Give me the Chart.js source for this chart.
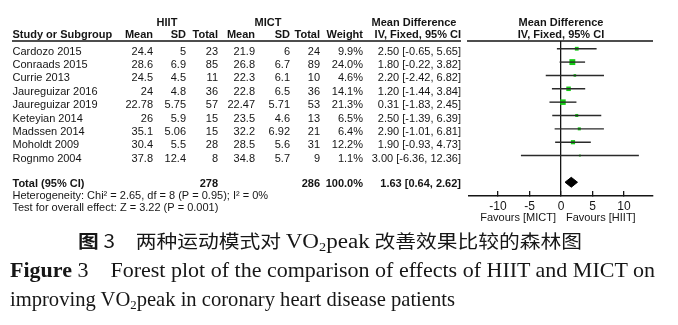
<!DOCTYPE html>
<html>
<head>
<meta charset="utf-8">
<title>Forest plot</title>
<script src="https://cdn.jsdelivr.net/npm/chart.js@4.4.1/dist/chart.umd.min.js"></script>
<style>
    html, body { margin: 0; padding: 0; background: #fff; }
    #wrap { position: relative; width: 678px; height: 325px; overflow: hidden; }
    #forest { position: absolute; left: 0; top: 0; }
    .cap { position: absolute; white-space: nowrap; transform-origin: 0 50%; color: #161616; line-height: 1.15; }
    .cn { font-family: "Noto Sans CJK SC", sans-serif; font-size: 18px; }
    .cn .lat { font-family: "Liberation Serif", serif; font-size: 20px; }
    .en { font-family: "Liberation Serif", serif; font-size: 21px; }
    sub { font-size: 62%; vertical-align: -0.22em; line-height: 0; }
</style>
</head>
<body>
<div id="wrap">
    <canvas id="forest" width="678" height="228"></canvas>
    <div class="cap cn" data-left="78" data-y="241" data-width="504"><b>图</b> 3　两种运动模式对 <span class="lat">VO<sub>2</sub>peak</span> 改善效果比较的森林图</div>
    <div class="cap en" data-left="10" data-y="270" data-width="645"><b>Figure</b> 3&emsp;Forest plot of the comparison of effects of HIIT and MICT on</div>
    <div class="cap en" data-left="10" data-y="299" data-width="445">improving VO<sub>2</sub>peak in coronary heart disease patients</div>
</div>

<script>
'use strict';

// study rows
const studies = ['Cardozo 2015', 'Conraads 2015', 'Currie 2013', 'Jaureguizar 2016', 'Jaureguizar 2019',
    'Keteyian 2014', 'Madssen 2014', 'Moholdt 2009', 'Rognmo 2004'];

const hiitMean = [24.4, 28.6, 24.5, 24, 22.78, 26, 35.1, 30.4, 37.8];
const hiitSD = [5, 6.9, 4.5, 4.8, 5.75, 5.9, 5.06, 5.5, 12.4];
const hiitN = [23, 85, 11, 36, 57, 15, 15, 28, 8];

const mictMean = [21.9, 26.8, 22.3, 22.8, 22.47, 23.5, 32.2, 28.5, 34.8];
const mictSD = [6, 6.7, 6.1, 6.5, 5.71, 4.6, 6.92, 5.6, 5.7];
const mictN = [24, 89, 10, 36, 53, 13, 21, 31, 9];

const weights = [9.9, 24.0, 4.6, 14.1, 21.3, 6.5, 6.4, 12.2, 1.1];
const meanDiff = [2.50, 1.80, 2.20, 1.20, 0.31, 2.50, 2.90, 1.90, 3.00];
const ciLow = [-0.65, -0.22, -2.42, -1.44, -1.83, -1.39, -1.01, -0.93, -6.36];
const ciHigh = [5.65, 3.82, 6.82, 3.84, 2.45, 6.39, 6.81, 4.73, 12.36];

// pooled estimate
const totalHiitN = 278;
const totalMictN = 286;
const totalWeight = 100.0;
const totalMD = 1.63;
const totalLow = 0.64;
const totalHigh = 2.62;

const chi2 = 2.65;
const df = 8;
const pHet = 0.95;
const i2 = 0;
const zValue = 3.22;
const pOverall = 0.001;

const xTicks = [-10, -5, 0, 5, 10];

const TOTAL_ROW = 10;
const INK = '#151515';
const GREEN = '#14cc14';
const FONT = '"Liberation Sans", Arial, sans-serif';

function ci (m, lo, hi) {
    return `${m.toFixed(2)} [${lo.toFixed(2)}, ${hi.toFixed(2)}]`;
}

// table columns, header rows and footer text drawn around the plot
const tableText = {
    id: 'tableText',
    afterDraw (chart) {
        const { ctx, chartArea, scales: { x, y } } = chart;

        const put = (str, px, py, align, bold) => {
            ctx.font = `${bold ? 'bold ' : ''}11px ${FONT}`;
            ctx.textAlign = align;
            ctx.fillText(str, px, py);
        };

        ctx.save();
        ctx.fillStyle = INK;
        ctx.textBaseline = 'middle';

        put('HIIT', 167, 23, 'center', true);
        put('MICT', 268, 23, 'center', true);
        put('Mean Difference', 414, 23, 'center', true);
        put('Mean Difference', 561, 23, 'center', true);

        put('Study or Subgroup', 12.5, 35, 'left', true);
        put('Mean', 153, 35, 'right', true);
        put('SD', 186, 35, 'right', true);
        put('Total', 218, 35, 'right', true);
        put('Mean', 255, 35, 'right', true);
        put('SD', 290, 35, 'right', true);
        put('Total', 320, 35, 'right', true);
        put('Weight', 363, 35, 'right', true);
        put('IV, Fixed, 95% CI', 461, 35, 'right', true);
        put('IV, Fixed, 95% CI', 561, 35, 'center', true);

        studies.forEach((name, i) => {
            const py = y.getPixelForValue(i) + 3;
            put(name, 12.5, py, 'left');
            put(String(hiitMean[i]), 153, py, 'right');
            put(String(hiitSD[i]), 186, py, 'right');
            put(String(hiitN[i]), 218, py, 'right');
            put(String(mictMean[i]), 255, py, 'right');
            put(String(mictSD[i]), 290, py, 'right');
            put(String(mictN[i]), 320, py, 'right');
            put(weights[i].toFixed(1) + '%', 363, py, 'right');
            put(ci(meanDiff[i], ciLow[i], ciHigh[i]), 461, py, 'right');
        });

        const ty = y.getPixelForValue(TOTAL_ROW) + 1.5;
        put('Total (95% CI)', 12.5, ty, 'left', true);
        put(String(totalHiitN), 218, ty, 'right', true);
        put(String(totalMictN), 320, ty, 'right', true);
        put(totalWeight.toFixed(1) + '%', 363, ty, 'right', true);
        put(ci(totalMD, totalLow, totalHigh), 461, ty, 'right', true);

        put(`Heterogeneity: Chi\u00b2 = ${chi2.toFixed(2)}, df = ${df} (P = ${pHet.toFixed(2)}); I\u00b2 = ${i2}%`, 12.5, ty + 12.5, 'left');
        put(`Test for overall effect: Z = ${zValue.toFixed(2)} (P = ${pOverall.toFixed(3)})`, 12.5, ty + 24, 'left');

        const zero = x.getPixelForValue(0);
        put('Favours [MICT]', zero - 5, 218, 'right');
        put('Favours [HIIT]', zero + 5, 218, 'left');

        // header rule
        ctx.strokeStyle = INK;
        ctx.lineWidth = 1.5;
        ctx.beginPath();
        ctx.moveTo(12, chartArea.top);
        ctx.lineTo(461, chartArea.top);
        ctx.moveTo(467, chartArea.top);
        ctx.lineTo(chartArea.right, chartArea.top);
        ctx.stroke();
        ctx.restore();
    }
};

const ciLines = studies.map((name, i) => ({
    label: name,
    data: [{ x: ciLow[i], y: i }, { x: ciHigh[i], y: i }],
    borderColor: '#2a2a2a',
    borderWidth: 1.4,
    pointRadius: 0,
    fill: false
}));

const squares = {
    label: 'studies',
    data: studies.map((name, i) => ({ x: meanDiff[i], y: i })),
    showLine: false,
    pointStyle: 'rect',
    pointRadius: (c) => Math.max(1.4, Math.sqrt(weights[c.dataIndex]) * 0.85),
    backgroundColor: GREEN,
    borderWidth: 0
};

// pooled estimate diamond, half height in row units
const dh = 0.37;
const diamond = {
    label: 'total',
    data: [
        { x: totalLow, y: TOTAL_ROW },
        { x: totalMD, y: TOTAL_ROW - dh },
        { x: totalHigh, y: TOTAL_ROW },
        { x: totalMD, y: TOTAL_ROW + dh },
        { x: totalLow, y: TOTAL_ROW }
    ],
    fill: 'shape',
    backgroundColor: '#000',
    borderColor: '#000',
    borderWidth: 1,
    pointRadius: 0
};

new Chart(document.getElementById('forest'), {
    type: 'line',
    data: {
        datasets: [...ciLines, squares, diamond]
    },
    options: {
        responsive: false,
        animation: false,
        events: [],
        layout: {
            padding: { left: 469, right: 25, top: 41, bottom: 0 }
        },
        plugins: {
            legend: { display: false },
            tooltip: { enabled: false }
        },
        scales: {
            x: {
                type: 'linear',
                position: 'bottom',
                min: -14.6,
                max: 14.6,
                afterBuildTicks: (s) => { s.ticks = xTicks.map((v) => ({ value: v })); },
                afterFit: (s) => { s.height = 32; },
                grid: {
                    color: (c) => (c.tick && c.tick.value === 0 ? INK : 'rgba(0,0,0,0)'),
                    lineWidth: 1.3,
                    drawTicks: true,
                    tickLength: -5,
                    tickColor: INK,
                    tickWidth: 1.3
                },
                border: { display: true, color: INK, width: 1.5 },
                ticks: {
                    color: INK,
                    padding: 8,
                    maxRotation: 0,
                    font: { family: FONT, size: 12 }
                }
            },
            y: {
                type: 'linear',
                display: false,
                reverse: true,
                min: -0.58,
                max: 11.03
            }
        }
    },
    plugins: [tableText]
});

// squeeze caption lines to the column width
function fitCaptions () {
    document.querySelectorAll('.cap').forEach((el) => {
        el.style.transform = 'none';
        const w = el.getBoundingClientRect().width;
        el.style.left = el.dataset.left + 'px';
        el.style.top = (el.dataset.y - el.offsetHeight / 2) + 'px';
        el.style.transform = `scaleX(${el.dataset.width / w})`;
    });
}
fitCaptions();
if (document.fonts) {
    document.fonts.ready.then(fitCaptions);
}
</script>
</body>
</html>
